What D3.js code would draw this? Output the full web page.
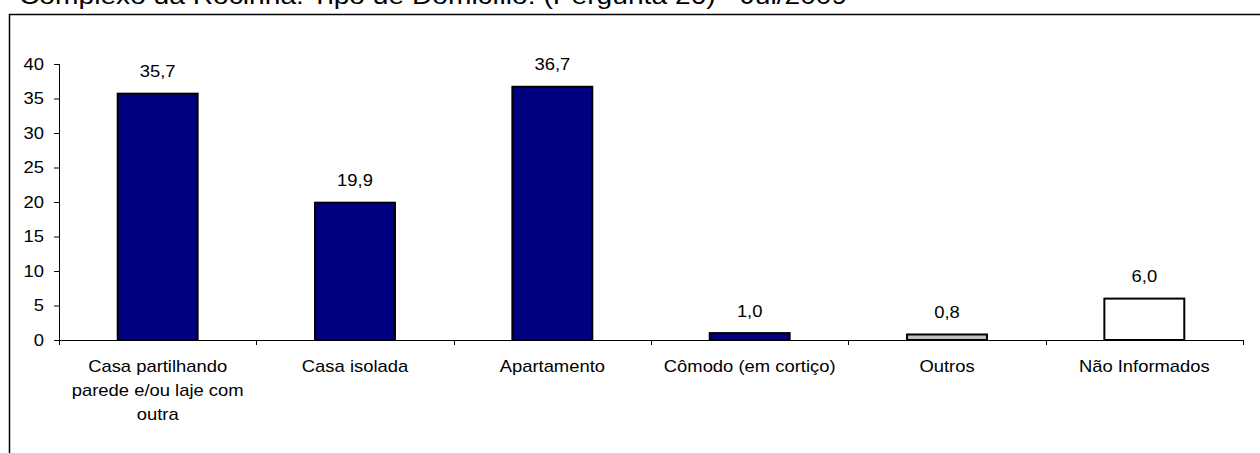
<!DOCTYPE html>
<html><head><meta charset="utf-8">
<script src="https://cdn.jsdelivr.net/npm/d3@7"></script>
<style>body{margin:0;background:#fff}svg{display:block;font-family:"Liberation Sans",Arial,sans-serif}</style>
</head><body>
<svg id="c" width="1260" height="453"></svg>
<script>
const title = "Complexo da Rocinha: Tipo de Domicílio: (Pergunta 26) - Jul/2009";
const categories = [["Casa partilhando","parede e/ou laje com","outra"],["Casa isolada"],["Apartamento"],["Cômodo (em cortiço)"],["Outros"],["Não Informados"]];
const values = [35.7, 19.9, 36.7, 1.0, 0.8, 6.0];
const colors = ["#000080","#000080","#000080","#000080","#C0C0C0","#FFFFFF"];
const yTicks = [0,5,10,15,20,25,30,35,40];

const SX = 1.15, FS = 16;
const svg = d3.select("#c");
function stext(g, x, y, anchor, fs, str){
  return g.append("text").attr("transform",`translate(${x},${y}) scale(${SX},1)`)
    .attr("text-anchor",anchor).attr("font-size",fs).attr("fill","#000").text(str);
}
stext(svg, 19, 4, "start", 24.5, title);
svg.append("rect").attr("x",9.5).attr("y",14.5).attr("width",1300).attr("height",500).attr("fill","none").attr("stroke","#000").attr("stroke-width",1.5);

const x = d3.scaleBand().domain(d3.range(values.length)).range([59,1243]).paddingInner(0.595).paddingOuter(0.2975);
const y = d3.scaleLinear().domain([0,40]).range([340,64]);

const ya = svg.append("g").attr("transform","translate(59,0)")
  .call(d3.axisLeft(y).tickValues(yTicks).tickSize(5).tickPadding(6));
ya.selectAll("text").attr("font-size",FS).attr("font-family","Liberation Sans, Arial, sans-serif").attr("fill","#000")
  .attr("x",-13).attr("transform",`scale(${SX},1)`);
ya.selectAll("line,path").attr("stroke","#000");
ya.select(".domain").attr("d","M0.5,64V340.5");

const xs = d3.scaleLinear().domain([0,6]).range([59,1243]);
const xa = svg.append("g").attr("transform","translate(0,340)");
xa.append("line").attr("x1",59).attr("x2",1243).attr("y1",0.5).attr("y2",0.5).attr("stroke","#000");
xa.selectAll("line.t").data(d3.range(7)).join("line").attr("class","t")
  .attr("x1",d=>Math.round(xs(d))+0.5).attr("x2",d=>Math.round(xs(d))+0.5).attr("y1",0).attr("y2",5).attr("stroke","#000");

svg.selectAll("rect.bar").data(values).join("rect").attr("class","bar")
  .attr("x",(d,i)=>x(i)).attr("width",x.bandwidth())
  .attr("y",d=>y(d)).attr("height",d=>y(0)-y(d))
  .attr("fill",(d,i)=>colors[i]).attr("stroke","#000").attr("stroke-width",2);

values.forEach((d,i)=>{
  stext(svg, x(i)+x.bandwidth()/2, y(d)-16.5, "middle", FS, d.toFixed(1).replace(".",","));
});

categories.forEach((lines,i)=>{
  lines.forEach((l,j)=>stext(svg, x(i)+x.bandwidth()/2, 372+24*j, "middle", FS, l));
});
</script>
</body></html>
